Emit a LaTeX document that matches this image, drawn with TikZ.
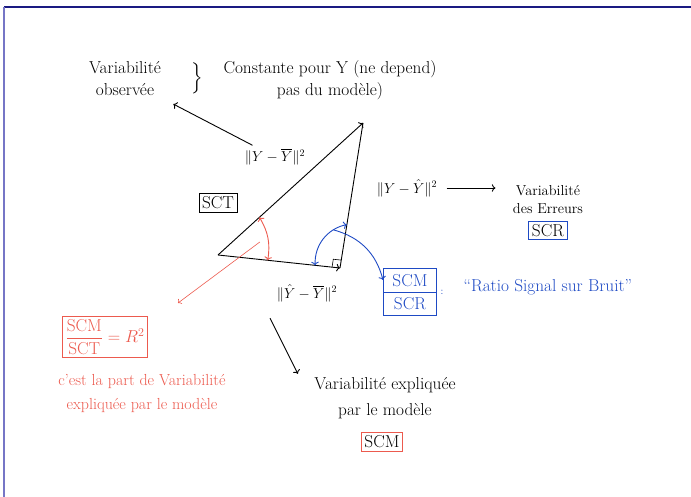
\documentclass[tikz,border=0pt]{standalone}
\usepackage{amsmath}
\usepackage{amssymb}
\usetikzlibrary{
    arrows.meta,
    calc,
    positioning,
    shapes.multipart
}

\definecolor{penred}{RGB}{236,90,78}
\definecolor{penblue}{RGB}{30,74,196}
\definecolor{framenavy}{RGB}{26,26,130}
\definecolor{framelilac}{RGB}{118,118,198}

\tikzset{
    pen/.style={line width=0.9pt},
    boxed/.style={draw, line width=0.9pt, inner sep=3pt},
}

\begin{document}
\begin{tikzpicture}[x=1pt,y=1pt,font=\LARGE]
\useasboundingbox (0,0) rectangle (691,497);
\draw[framenavy, line width=1.3pt] (4,490) -- (691,490);
\draw[framelilac, line width=1.3pt] (4,490) -- (4,0);

% triangle
\coordinate (A) at (218,242);
\coordinate (T) at (363,374);
\coordinate (R) at (340,229);
\draw[pen,->] (A) -- (T);
\draw[pen,->] (A) -- (R);
\draw[pen] (R) -- (T);
\coordinate (ra) at ($(R)!8pt!(A)$);
\coordinate (rt) at ($(R)!8pt!(T)$);
\draw[line width=0.6pt] (ra) -- ($(ra)+(rt)-(R)$) -- (rt);

% norms
\node[font=\Large] (sst) at (275,340) {$\|Y-\overline{Y}\|^2$};
\node[font=\Large] (sse) at (407,309) {$\|Y-\hat{Y}\|^2$};
\node[font=\Large] (ssm) at (307,204) {$\|\hat{Y}-\overline{Y}\|^2$};
\node[boxed] (sct) at (218,294) {SCT};

% observed
\node[align=center] (obs) at (125,418) {Variabilité\\observée};
\node (brace) at (197,419) {$\Big\}$};
\node[align=center] (const) at (330,417) {Constante pour Y (ne depend)\\pas du modèle)};
\draw[pen,->,shorten >=10pt] (sst) -- (obs);

% errors
\node[font=\Large, align=center] (errs) at (548,297) {Variabilité\\des Erreurs};
\node[boxed, draw=penblue, below=3pt of errs] (scr) {SCR};
\draw[pen,->,shorten <=6pt,shorten >=14pt] (sse.east) -- (sse.east -| errs.west);

% explained
\node[align=center] (expl) at (385,99) {Variabilité expliquée\\[4pt]par le modèle};
\node[boxed, draw=penred] (scm) at (382,55) {SCM};
\draw[pen,->] ([xshift=-37pt,yshift=-13pt]ssm.south) -- ([xshift=-13pt]expl.north west);

% R2
\coordinate (rp1) at ($(A)!56pt!(T)$);
\coordinate (rp2) at ($(A)!50pt!(R)$);
\draw[pen, penred, <->] (rp1) to[bend left=20] coordinate[pos=0.5] (rmid) (rp2);
\node[boxed, draw=penred, text=penred] (ratio) at (105,160) {$\dfrac{\text{SCM}}{\text{SCT}} = R^2$};
\coordinate (redtip) at (178,194);
\draw[penred, line width=0.6pt, ->] ([shift={(-8pt,-4pt)}]rmid) -- (redtip);
\node[font=\fontsize{16}{24}\selectfont, text=penred, align=center] (part) at (142,104) {c'est la part de Variabilité\\expliquée par le modèle};

% signal / bruit
\coordinate (bp1) at ($(R)!25pt!(A)$);
\coordinate (bp2) at ($(R)!44pt!(T)$);
\draw[pen, penblue, <->] (bp1) to[bend left=40] coordinate[pos=0.75] (bmid) (bp2);
\node[draw=penblue, text=penblue, line width=0.9pt, rectangle split, rectangle split parts=2, inner xsep=9pt, inner ysep=5pt] (snr) at (410,205) {SCM\nodepart{second}SCR};
\node[text=penblue, right=0pt of snr, font=\normalsize] (colon) {:};
\node[text=penblue, anchor=west] (signal) at (460,210) {“Ratio Signal sur Bruit”};
\draw[pen, penblue, ->] (bmid) to[bend left=30] ([yshift=12pt]snr.west);
\end{tikzpicture}
\end{document}
